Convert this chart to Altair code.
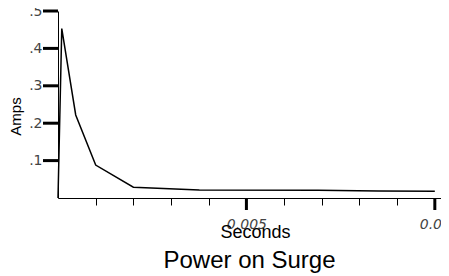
import altair as alt
import pandas as pd

seconds = [0.0, 0.0001, 0.00047, 0.001, 0.002, 0.00375, 0.0069, 0.0085, 0.01]
amps = [0.0, 0.453, 0.222, 0.088, 0.029, 0.0215, 0.0205, 0.019, 0.018]
x_ticks = [0.001, 0.002, 0.003, 0.004, 0.005, 0.006, 0.007, 0.008, 0.009, 0.01]
x_major = [0.005, 0.01]
y_ticks = [0.1, 0.2, 0.3, 0.4, 0.5]

df = pd.DataFrame({"t": seconds, "a": amps, "order": list(range(len(seconds)))})
xmaj_df = pd.DataFrame({"t": x_major})
ytick_df = pd.DataFrame({"a": y_ticks})

xscale = alt.Scale(domain=[0, 0.010164], nice=False, zero=False)
yscale = alt.Scale(domain=[0, 0.5], nice=False)

line = alt.Chart(df).mark_line(color="black", strokeWidth=1.5).encode(
    x=alt.X("t:Q", scale=xscale,
            axis=alt.Axis(values=x_ticks, title="Seconds", grid=False, ticks=True,
                          labelExpr="(datum.value > 0.0049 && datum.value < 0.0051) ? '0.005' : (datum.value > 0.0099 ? '0.01' : '')",
                          tickSize=7, tickColor="black", domainColor="black", tickWidth=1,
                          labelFont="DejaVu Sans", labelFontStyle="italic", labelFontSize=14,
                          labelColor="#444", labelPadding=12, labelFlush=False,
                          titleFont="Liberation Sans", titleFontSize=18, titleFontWeight="normal",
                          titleColor="black", titleX=197, titleY=39, titleBaseline="alphabetic")),
    y=alt.Y("a:Q", scale=yscale,
            axis=alt.Axis(values=y_ticks, title="Amps", grid=False, ticks=False,
                          labelExpr="replace(format(datum.value, '.1f'), '0.', '.')",
                          domainColor="black",
                          labelFont="DejaVu Sans", labelFontSize=14, labelColor="#444",
                          labelPadding=16, labelFlush=False,
                          titleFont="Liberation Sans", titleFontSize=15, titleFontWeight="normal",
                          titleColor="black", titleX=-38, titleY=105, titleAngle=-90,
                          titleBaseline="alphabetic", titleAlign="center")),
    order="order:Q",
)

xmaj = alt.Chart(xmaj_df).mark_rule(color="black", strokeWidth=3, clip=False).encode(
    x=alt.X("t:Q", scale=xscale, title="Seconds"),
    y=alt.value(187), y2=alt.value(199),
)

yt = alt.Chart(ytick_df).mark_rule(color="black", strokeWidth=3, clip=False).encode(
    y=alt.Y("a:Q", scale=yscale, title="Amps"),
    x=alt.value(-15), x2=alt.value(0),
)

chart = alt.layer(line, xmaj, yt).properties(
    width=383, height=187,
    title=alt.TitleParams("Power on Surge", orient="bottom", font="Liberation Sans",
                          fontSize=24, fontWeight="normal", color="black", anchor="middle", offset=8),
    autosize=alt.AutoSizeParams(type="none"),
    padding={"left": 50, "top": 3, "right": 0, "bottom": 76},
).configure_view(stroke=None)

chart.save("out.html", embed_options={"renderer": "svg", "actions": False})
